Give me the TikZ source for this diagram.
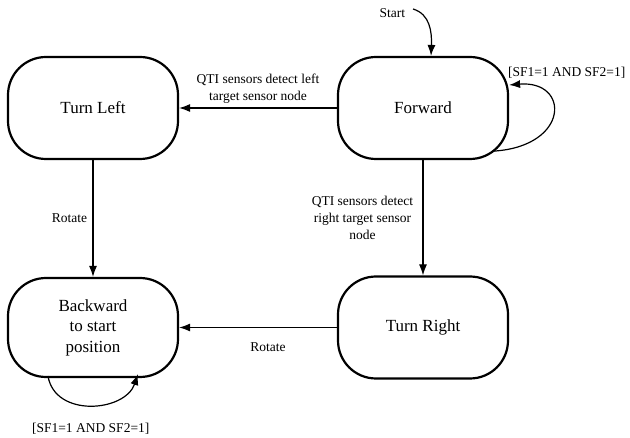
\documentclass[tikz,border=0pt]{standalone}
\usepackage{fontspec}
\setmainfont{Liberation Serif}
\usetikzlibrary{arrows.meta}

\begin{document}
\begin{tikzpicture}[x=1pt, y=-1pt, >=stealth]
\tikzset{statenode/.style={draw, line width=2.2pt, rounded corners=38pt, minimum width=170pt, minimum height=102pt, inner sep=0pt, align=center, font=\fontsize{17}{20.5}\selectfont} }
\tikzset{lbl/.style={align=center, font=\fontsize{13.5}{17}\selectfont} }
\tikzset{>={Latex[width=8pt,length=11pt]}, every path/.style={line width=1.2pt}}
\useasboundingbox (0,0) rectangle (630,438);
\node[statenode] (fwd) at (423,108) {Forward};
\node[statenode] (tl) at (93,108) {Turn Left};
\node[statenode] (tr) at (423,327.5) {Turn Right};
\node[statenode, minimum height=99pt] (bw) at (93,327.5) {Backward\\to start\\position};
\node[lbl, anchor=east] (start) at (409,13) {Start};
\coordinate (s0) at (413,9);
\path[->] (fwd) edge node[lbl, above, yshift=1pt] {QTI sensors detect left\\target sensor node} (tl);
\path[->] (fwd) edge node[lbl, left, xshift=-6pt] {QTI sensors detect\\right target sensor\\node} (tr);
\path[->] (tl) edge node[lbl, left, xshift=-2pt] {Rotate} (bw);
\path[->] (tr) edge node[lbl, below, xshift=10pt, yshift=-11pt] {Rotate} (bw);
\draw[->] (s0) .. controls (430,14) and (432,32) .. ([xshift=8pt]fwd.north);
% self loops
\draw[->] ([shift={(-15,-9)}]fwd.south east) .. controls (570,146) and (570,80) .. ([yshift=23pt]fwd.east)
  node[lbl, anchor=south west, xshift=-5pt, yshift=3pt] {[SF1=1 AND SF2=1]};
\draw[->] ([shift={(-45,-2)}]bw.south) .. controls (55,418) and (125,412) .. ([shift={(45,-4)}]bw.south)
  node[lbl, pos=0.5, below, xshift=0pt, yshift=-14pt] {[SF1=1 AND SF2=1]};
\end{tikzpicture}
\end{document}
